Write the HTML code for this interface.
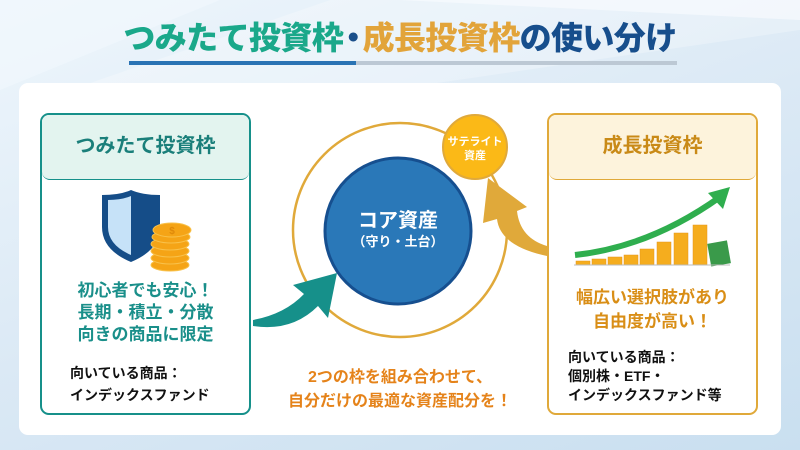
<!DOCTYPE html>
<html><head><meta charset="utf-8"><style>
*{margin:0;padding:0;box-sizing:border-box}
body{width:800px;height:450px;overflow:hidden;font-family:"Liberation Sans","Noto Sans CJK JP",sans-serif;font-weight:bold;background:linear-gradient(160deg,#eef6fc 0%,#dbe9f5 50%,#c9dff0 100%);position:relative}
.abs{position:absolute}
.t{position:absolute;white-space:nowrap}
</style></head><body>
<svg class="abs" style="left:0;top:0" width="800" height="450">
<polygon points="0,0 220,0 0,90" fill="#f2f8fd" opacity=".6"/>
<polygon points="400,0 800,0 800,20" fill="#f5f9fd" opacity=".7"/>
<polygon points="70,90 330,0 800,0 800,30 430,84" fill="#ffffff" opacity=".25"/>
</svg>
<div class="t" style="left:0;width:800px;top:17px;text-align:center;font-size:32px;letter-spacing:-0.6px;line-height:42px;font-weight:900"><span style="color:#1aa88a">つみたて投資枠</span><span style="color:#1a4f8a;margin:0 -6px">・</span><span style="color:#e2a43a">成長投資枠</span><span style="color:#174e8c">の使い分け</span></div>
<div class="abs" style="left:129px;top:61px;width:227px;height:4px;background:#2a73b4"></div>
<div class="abs" style="left:356px;top:61px;width:321px;height:4px;background:#bcc8d4"></div>
<div class="abs" style="left:19px;top:83px;width:762px;height:352px;background:#fff;border-radius:9px"></div>

<!-- left box -->
<div class="abs" style="left:40px;top:113px;width:211px;height:302px;border:2.5px solid #16908a;border-radius:9px;overflow:hidden">
<div style="height:65px;background:#e3f4ef;border-bottom:1.5px solid #16908a;border-radius:0 0 8px 8px;text-align:center;line-height:62px;font-size:20px;color:#1a7f7a">つみたて投資枠</div>
</div>
<svg class="abs" style="left:95px;top:185px" width="105" height="90">
<path d="M7,10 Q25,10 36,5 Q47,10 65,10 L65,42 Q65,65 36,77 Q7,65 7,42 Z" fill="#154d88"/>
<path d="M13,15 Q27,15 36,11 L36,70 Q13,60 13,42 Z" fill="#c6e2f8"/>
<g fill="#f5a416" stroke="#f8c14a" stroke-width="1">
<ellipse cx="75" cy="80" rx="19" ry="6"/><ellipse cx="75" cy="73" rx="19" ry="6"/><ellipse cx="75" cy="66" rx="19" ry="6"/><ellipse cx="75" cy="59" rx="19" ry="6"/><ellipse cx="76" cy="52" rx="19" ry="6"/><ellipse cx="77" cy="45" rx="19" ry="7"/>
</g>
<text x="77" y="49" font-size="10" fill="#e08a0a" text-anchor="middle">$</text>
</svg>
<div class="t" style="left:40px;width:211px;top:280px;text-align:center;font-size:17px;line-height:22px;color:#1a8f8a">初心者でも安心！<br>長期・積立・分散<br>向きの商品に限定</div>
<div class="t" style="left:70px;top:362px;font-size:14px;line-height:22px;color:#111">向いている商品：<br>インデックスファンド</div>

<!-- right box -->
<div class="abs" style="left:547px;top:113px;width:211px;height:302px;border:2.5px solid #e0a93a;border-radius:9px;overflow:hidden">
<div style="height:65px;background:#fdf3dc;border-bottom:1.5px solid #e0a93a;border-radius:0 0 8px 8px;text-align:center;line-height:62px;font-size:20px;color:#c98a17">成長投資枠</div>
</div>
<svg class="abs" style="left:570px;top:185px" width="170" height="90">
<g fill="#f5ad1e" stroke="#e6951a" stroke-width=".5">
<rect x="6" y="76" width="14" height="4"/><rect x="22" y="74" width="14" height="6"/><rect x="38" y="72" width="14" height="8"/><rect x="54" y="70" width="14" height="10"/><rect x="70" y="64" width="14" height="16"/><rect x="87" y="57" width="14" height="23"/><rect x="104" y="48" width="14" height="32"/><rect x="123" y="40" width="14" height="40"/>
</g>
<rect x="139" y="57" width="20" height="23" fill="#3a9a4a" transform="rotate(-10 149 68)"/>
<path d="M5,70 Q80,62 150,12" stroke="#2fae4e" stroke-width="6" fill="none"/>
<polygon points="138,8 160,2 153,24" fill="#2fae4e"/>
<line x1="4" y1="80" x2="160" y2="80" stroke="#bbb" stroke-width="1"/>
</svg>
<div class="t" style="left:547px;width:211px;top:286px;text-align:center;font-size:17px;line-height:24px;color:#d98e16">幅広い選択肢があり<br>自由度が高い！</div>
<div class="t" style="left:568px;top:348px;font-size:14px;line-height:19px;color:#111">向いている商品：<br>個別株・ETF・<br>インデックスファンド等</div>

<!-- center -->
<svg class="abs" style="left:0;top:0" width="800" height="450">
<circle cx="400" cy="230" r="107" fill="none" stroke="#e0a93a" stroke-width="2.5"/>
<circle cx="398" cy="231" r="73" fill="#2a78b8" stroke="#164f8f" stroke-width="3"/>
<circle cx="475" cy="147" r="32" fill="#fbb917" stroke="#e0a93a" stroke-width="2"/>
<path d="M253,320 Q285,314 304,294 L293,285 L337,273 L328,318 L318,306 Q292,332 253,326 Z" fill="#16908a"/>
<path d="M547,256 Q500,246 497,219 L483,223 L488,178 L527,207 L517,211 Q520,238 547,246 Z" fill="#e0a93a"/>
<text x="398" y="227" font-size="20" fill="#fff" text-anchor="middle" font-weight="bold">コア資産</text>
<text x="398" y="246" font-size="13" fill="#fff" text-anchor="middle" font-weight="bold">（守り・土台）</text>
<text x="475" y="145" font-size="11" fill="#fff" text-anchor="middle" font-weight="bold">サテライト</text>
<text x="475" y="159" font-size="11" fill="#fff" text-anchor="middle" font-weight="bold">資産</text>
</svg>
<div class="t" style="left:250px;width:300px;top:366px;text-align:center;font-size:16px;line-height:24px;color:#e5831a">2つの枠を組み合わせて、<br>自分だけの最適な資産配分を！</div>
</body></html>
